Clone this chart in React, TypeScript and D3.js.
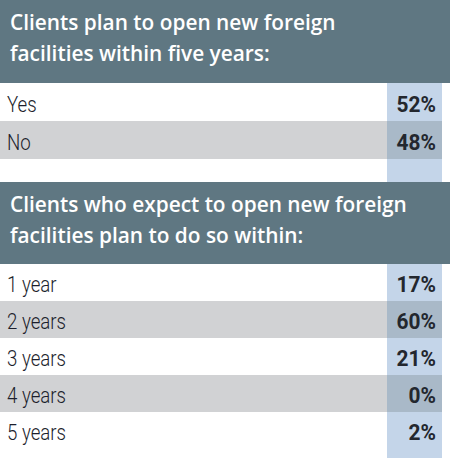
import { useRef, useEffect } from "react";
import * as d3 from "d3";

const title1 = ["Clients plan to open new foreign", "facilities within five years:"];
const q1Labels = ["Yes", "No"];
const q1Values = [52, 48];

const title2 = ["Clients who expect to open new foreign", "facilities plan to do so within:"];
const q2Labels = ["1 year", "2 years", "3 years", "4 years", "5 years"];
const q2Values = [17, 60, 21, 0, 2];

const WIDTH = 450;
const HEIGHT = 458;

export default function App() {
  const svgRef = useRef<SVGSVGElement>(null);

  useEffect(() => {
    if (!svgRef.current) return;
    const svg = d3.select(svgRef.current);
    svg.selectAll("*").remove();
    svg.attr("width", WIDTH).attr("height", HEIGHT);

    const headerFill = "#5f7782";
    const blue = "#c4d5e9";
    const grey = "#d1d2d4";
    const overlap = "#a9b9c8";
    const colX = 387;
    const colW = 55;
    const rowRight = 442;

    svg.append("rect").attr("width", WIDTH).attr("height", HEIGHT).attr("fill", "#fff");

    // blue value column runs down the whole table
    svg.append("rect")
      .attr("x", colX).attr("y", 82)
      .attr("width", colW).attr("height", HEIGHT - 82)
      .attr("fill", blue);

    const section = (
      titles: string[],
      labels: string[],
      values: number[],
      top: number,
      headerH: number,
      step: number
    ) => {
      const g = svg.append("g");
      g.append("rect")
        .attr("x", 0).attr("y", top)
        .attr("width", WIDTH).attr("height", headerH)
        .attr("fill", headerFill);
      g.selectAll("text.title")
        .data(titles)
        .join("text")
        .attr("class", "title")
        .attr("transform", (_, i) => `translate(10,${top + 30 + i * 31}) scale(0.97,1)`)
        .attr("fill", "#fff")
        .style("font-family", "'Open Sans', sans-serif")
        .style("font-weight", 600)
        .style("font-size", "21.5px")
        .text((d) => d);

      const rowsTop = top + headerH;
      const y = d3.scaleBand<string>()
        .domain(labels)
        .range([rowsTop, rowsTop + step * labels.length]);

      const odd = labels.filter((_, i) => i % 2 === 1);
      g.selectAll("rect.band")
        .data(odd)
        .join("rect")
        .attr("class", "band")
        .attr("x", 0).attr("y", (d) => y(d)!)
        .attr("width", rowRight).attr("height", y.bandwidth())
        .attr("fill", grey);
      g.selectAll("rect.cell")
        .data(odd)
        .join("rect")
        .attr("class", "cell")
        .attr("x", colX).attr("y", (d) => y(d)!)
        .attr("width", colW).attr("height", y.bandwidth())
        .attr("fill", overlap);

      // condensed light labels
      g.selectAll("text.label")
        .data(labels)
        .join("text")
        .attr("class", "label")
        .attr("transform", (d) => `translate(7,${y(d)! + y.bandwidth() - 9}) scale(0.83,1)`)
        .attr("fill", "#1c1e2c")
        .style("font-family", "Roboto, sans-serif")
        .style("font-weight", 300)
        .style("font-size", "22.5px")
        .text((d) => d);

      g.selectAll("text.value")
        .data(labels)
        .join("text")
        .attr("class", "value")
        .attr("transform", (d) => `translate(436,${y(d)! + y.bandwidth() - 9}) scale(0.95,1)`)
        .attr("text-anchor", "end")
        .attr("fill", "#23272e")
        .style("font-family", "Roboto, sans-serif")
        .style("font-weight", 700)
        .style("font-size", "22px")
        .text((_, i) => `${values[i]}%`);
    };

    section(title1, q1Labels, q1Values, 0, 83, 38);
    section(title2, q2Labels, q2Values, 182, 82, 37);
  }, []);

  return (
    <div style={{ position: "absolute", left: 0, top: 0 }}>
      <svg ref={svgRef} style={{ display: "block" }} />
    </div>
  );
}
